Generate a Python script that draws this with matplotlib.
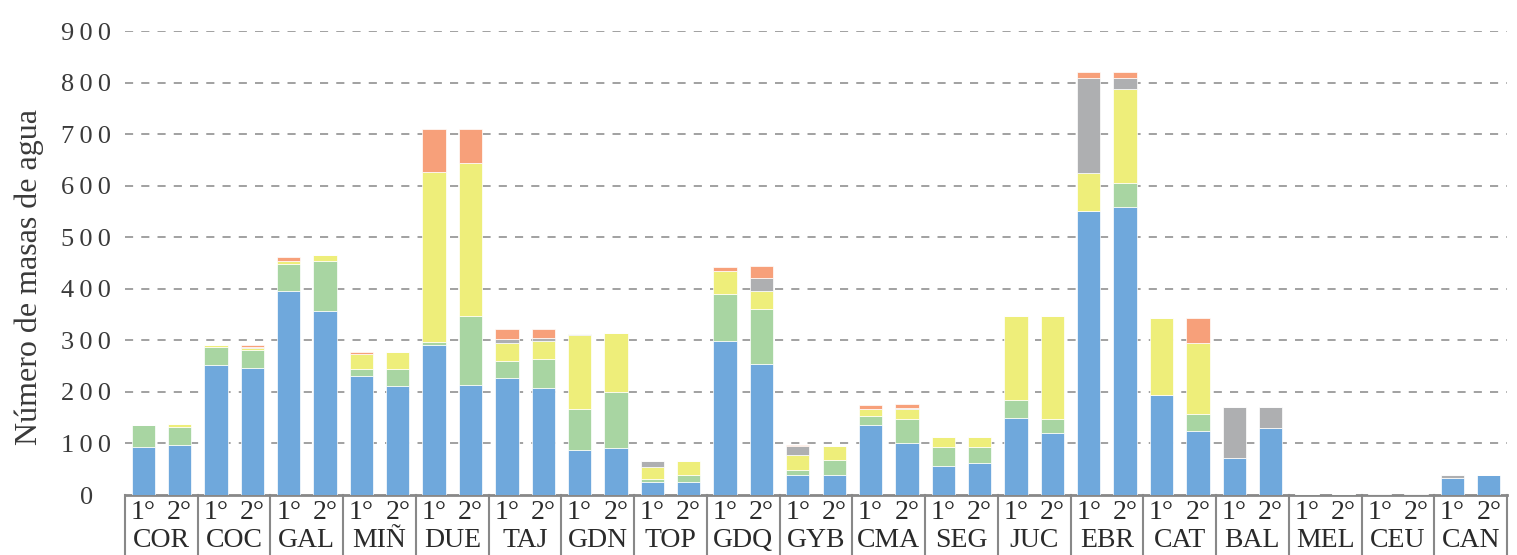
import matplotlib
matplotlib.use("Agg")
import matplotlib.pyplot as plt
import numpy as np

groups = ['COR', 'COC', 'GAL', 'MIÑ', 'DUE', 'TAJ', 'GDN', 'TOP', 'GDQ', 'GYB',
          'CMA', 'SEG', 'JUC', 'EBR', 'CAT', 'BAL', 'MEL', 'CEU', 'CAN']
cycles = ['1°', '2°']

blue = [94, 97, 252, 247, 396, 356, 230, 211, 291, 213, 226, 207, 87, 91, 26, 25,
        298, 255, 38, 38, 135, 101, 56, 62, 150, 120, 551, 558, 194, 124, 71, 130,
        0, 0, 0, 0, 33, 38]
green = [42, 35, 36, 34, 53, 97, 15, 33, 6, 135, 34, 56, 80, 109, 6, 14,
         92, 106, 11, 29, 18, 47, 37, 31, 34, 28, 0, 47, 0, 34, 0, 0,
         2, 2, 0, 0, 0, 0]
yellow = [0, 5, 3, 4, 5, 12, 29, 34, 329, 295, 34, 35, 144, 115, 22, 27,
          44, 35, 29, 28, 14, 19, 19, 19, 164, 200, 74, 183, 150, 136, 0, 0,
          0, 0, 0, 0, 0, 0]
gray = [0, 0, 0, 3, 0, 0, 0, 0, 0, 0, 9, 6, 2, 0, 12, 0,
        0, 25, 17, 0, 0, 2, 0, 0, 0, 0, 183, 21, 0, 0, 99, 40,
        0, 0, 1, 1, 5, 0]
orange = [0, 0, 0, 3, 7, 0, 3, 0, 83, 66, 19, 18, 0, 0, 0, 0,
          9, 23, 2, 0, 7, 7, 0, 0, 0, 0, 12, 12, 0, 50, 0, 0,
          0, 0, 0, 0, 0, 0]

series = [blue, green, yellow, gray, orange]
colors = ['#6FA8DC', '#A8D5A2', '#EEEE7A', '#AEAFB1', '#F7A07A']

yticks = [0, 100, 200, 300, 400, 500, 600, 700, 800, 900]

plt.rcParams['font.family'] = ['Liberation Serif', 'DejaVu Serif']

fig = plt.figure(figsize=(15.17, 5.55), dpi=100)
ax = fig.add_axes([125 / 1517, 60 / 555, 1382 / 1517, 464 / 555])

n = len(blue)
x = np.arange(n) + 0.5
bottom = np.zeros(n)
for vals, c in zip(series, colors):
    v = np.array(vals, dtype=float)
    ax.bar(x, v, width=0.64, bottom=bottom, color=c, edgecolor='white',
           linewidth=0.5, zorder=3)
    bottom += v

ax.set_xlim(0, n)
ax.set_ylim(0, 900)
ax.set_yticks(yticks)
ax.set_yticklabels(['\u2009'.join(str(t)) for t in yticks], fontsize=19,
                   color='#3a3a3a', ha='center')
ax.tick_params(axis='y', length=0, pad=28)
ax.set_xticks([])

for t in yticks[1:]:
    ax.axhline(t, color='#9a9a9a', lw=1.3, dashes=(4.5, 4.5), zorder=1)

for s in ['top', 'right', 'left']:
    ax.spines[s].set_visible(False)
ax.spines['bottom'].set_color('#888888')
ax.spines['bottom'].set_linewidth(2)

ax.set_ylabel('Número de masas de agua', fontsize=23, color='#3a3a3a')
ax.yaxis.set_label_coords(-0.0586, 0.47)

trans = ax.get_xaxis_transform()
for g in range(len(groups) + 1):
    ax.plot([2 * g, 2 * g], [0, -0.2], transform=trans, color='#888888', lw=1.5,
            clip_on=False, zorder=4)
for g, name in enumerate(groups):
    for k, cyc in enumerate(cycles):
        ax.text(2 * g + k + 0.5, -0.038, cyc, transform=trans, ha='center', va='center',
                fontsize=20, color='#2a2a2a')
    ax.text(2 * g + 1, -0.097, name, transform=trans, ha='center', va='center',
            fontsize=20, color='#2a2a2a')

fig.savefig('out.png', dpi=100)
